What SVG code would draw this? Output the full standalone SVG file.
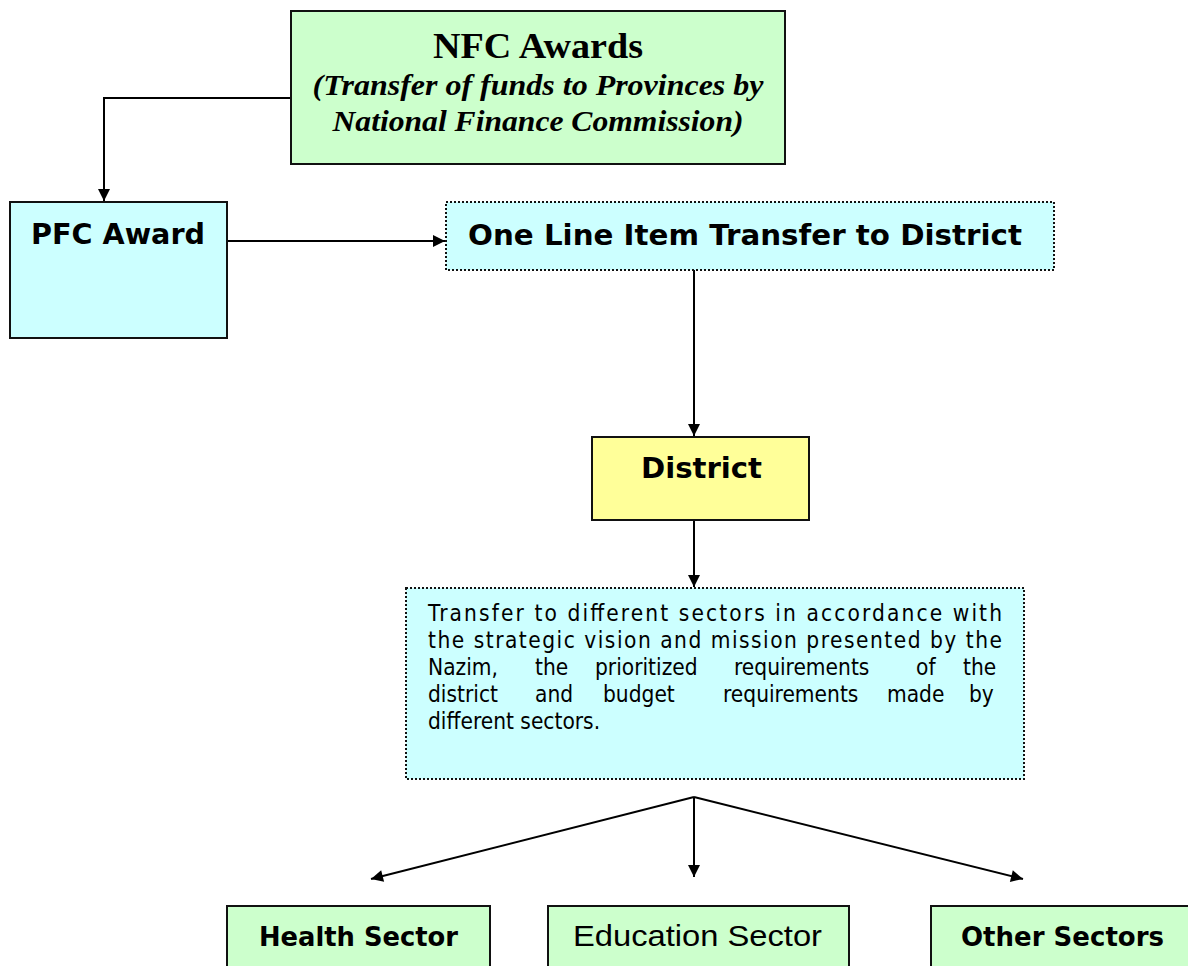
<svg xmlns="http://www.w3.org/2000/svg" width="1188" height="966" viewBox="0 0 1188 966">
<defs>
<marker id="ah" viewBox="0 0 10 10" refX="10" refY="5" markerWidth="7" markerHeight="6" markerUnits="strokeWidth" orient="auto">
<path d="M0,0 L10,5 L0,10 z" fill="#000"/>
</marker>
<style>
.box{stroke:#111;stroke-width:2}
.dot{stroke:#111;stroke-width:2;stroke-dasharray:2 2}
.green{fill:#ccffcc}
.cyan{fill:#ccffff}
.yellow{fill:#ffff99}
.sansb{font-family:"DejaVu Sans","Noto Sans",sans-serif;font-weight:bold;fill:#000}
.body{font-family:"DejaVu Sans Condensed","DejaVu Sans","Noto Sans",sans-serif;font-size:22.5px;fill:#000}
.serif{font-family:"Liberation Serif","Times New Roman",serif;font-weight:bold;fill:#000}
.narrow{font-family:"Liberation Sans Narrow","Liberation Sans",Arial,sans-serif;fill:#000}
.conn{stroke:#000;stroke-width:2;fill:none}
</style>
</defs>
<rect width="1188" height="966" fill="#fff"/>

<g id="connectors">
<path class="conn" d="M291,98 H104 V201" marker-end="url(#ah)"/>
<path class="conn" d="M227,241 H445" marker-end="url(#ah)"/>
<path class="conn" d="M694,270 V436" marker-end="url(#ah)"/>
<path class="conn" d="M694,520 V587" marker-end="url(#ah)"/>
<path class="conn" d="M694,797 L371,879" marker-end="url(#ah)"/>
<path class="conn" d="M694,797 V877" marker-end="url(#ah)"/>
<path class="conn" d="M694,797 L1023,879" marker-end="url(#ah)"/>
</g>

<g id="nfc">
<rect class="box green" x="291" y="11" width="494" height="153"/>
<text class="serif" x="538" y="58" font-size="35" text-anchor="middle" textLength="210" lengthAdjust="spacingAndGlyphs">NFC Awards</text>
<text class="serif" x="538" y="95" font-size="29" font-style="italic" text-anchor="middle" textLength="451" lengthAdjust="spacingAndGlyphs">(Transfer of funds to Provinces by</text>
<text class="serif" x="538" y="131" font-size="29" font-style="italic" text-anchor="middle" textLength="411" lengthAdjust="spacingAndGlyphs">National Finance Commission)</text>
</g>

<g id="pfc">
<rect class="box cyan" x="10" y="202" width="217" height="136"/>
<text class="sansb" x="31" y="244" font-size="28" textLength="174" lengthAdjust="spacingAndGlyphs">PFC Award</text>
</g>

<g id="oneline">
<rect class="dot cyan" x="446" y="202" width="608" height="68"/>
<text class="sansb" x="468" y="245" font-size="28" textLength="554" lengthAdjust="spacingAndGlyphs">One Line Item Transfer to District</text>
</g>

<g id="district">
<rect class="box yellow" x="592" y="437" width="217" height="83"/>
<text class="sansb" x="641" y="478" font-size="28" textLength="121" lengthAdjust="spacingAndGlyphs">District</text>
</g>

<g id="transfer">
<rect class="dot cyan" x="406" y="588" width="618" height="191"/>
<text class="body" x="428" y="621" textLength="574" lengthAdjust="spacing">Transfer to different sectors in accordance with</text>
<text class="body" x="428" y="648" textLength="574" lengthAdjust="spacing">the strategic vision and mission presented by the</text>
<text class="body" y="675"><tspan x="428">Nazim,</tspan><tspan x="535">the</tspan><tspan x="595">prioritized</tspan><tspan x="734">requirements</tspan><tspan x="916">of</tspan><tspan x="963">the</tspan></text>
<text class="body" y="702"><tspan x="428">district</tspan><tspan x="535">and</tspan><tspan x="603">budget</tspan><tspan x="723">requirements</tspan><tspan x="887">made</tspan><tspan x="969">by</tspan></text>
<text class="body" x="428" y="729">different sectors.</text>
</g>

<g id="health">
<rect class="box green" x="227" y="906" width="263" height="70"/>
<text class="sansb" x="259" y="946" font-size="27" textLength="199" lengthAdjust="spacingAndGlyphs">Health Sector</text>
</g>

<g id="education">
<rect class="box green" x="548" y="906" width="301" height="70"/>
<text class="narrow" x="573" y="946" font-size="30" textLength="249" lengthAdjust="spacingAndGlyphs">Education Sector</text>
</g>

<g id="other">
<rect class="box green" x="931" y="906" width="270" height="70"/>
<text class="sansb" x="961" y="946" font-size="27" textLength="203" lengthAdjust="spacingAndGlyphs">Other Sectors</text>
</g>
</svg>
